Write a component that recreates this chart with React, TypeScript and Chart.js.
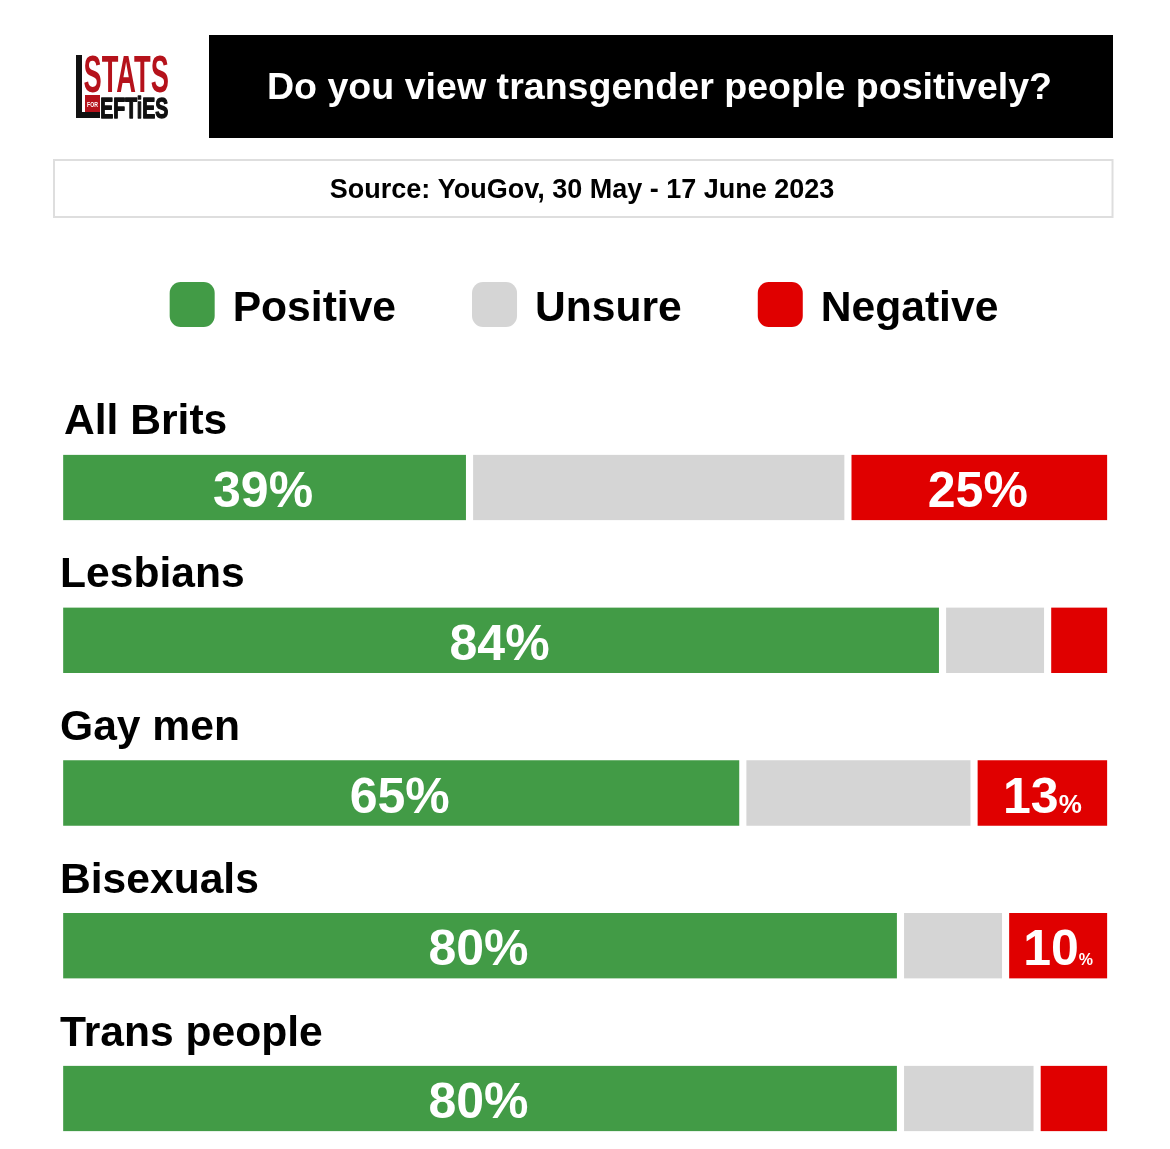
import React, { useEffect, useRef } from "react";
import { Chart, registerables } from "chart.js";

Chart.register(...registerables);

const title = "Do you view transgender people positively?";
const source = "Source: YouGov, 30 May - 17 June 2023";
const categories = ["All Brits", "Lesbians", "Gay men", "Bisexuals", "Trans people"];
const seriesNames = ["Positive", "Unsure", "Negative"];
const positive = [39, 84, 65, 80, 80];
const unsure = [36, 10, 22, 10, 13];
const negative = [25, 6, 13, 10, 7];
const positiveLabels = ["39", "84", "65", "80", "80"];
const unsureLabels = [null, null, null, null, null];
const negativeLabels = ["25", null, "13", "10", null];

const GREEN = "#429b46";
const GRAY = "#d5d5d5";
const RED = "#e00000";
const FONT = '"Liberation Sans", Arial, sans-serif';
const NARROW = '"Liberation Sans Narrow", "Liberation Sans", sans-serif';
const smallPercent: Record<string, number> = { "13": 26, "10": 16 };

function fitText(ctx: CanvasRenderingContext2D, text: string, x: number, baseline: number, width: number, font: string, color: string, heavy = 0) {
  ctx.save();
  ctx.font = font;
  ctx.fillStyle = color;
  ctx.textAlign = "left";
  ctx.textBaseline = "alphabetic";
  const m = ctx.measureText(text);
  const ink = m.actualBoundingBoxLeft + m.actualBoundingBoxRight;
  ctx.translate(x, baseline);
  ctx.scale(width / ink, 1);
  ctx.fillText(text, m.actualBoundingBoxLeft, 0);
  if (heavy > 0) {
    ctx.strokeStyle = color;
    ctx.lineWidth = heavy;
    ctx.lineJoin = "round";
    ctx.strokeText(text, m.actualBoundingBoxLeft, 0);
  }
  ctx.restore();
}

function drawLogo(ctx: CanvasRenderingContext2D) {
  ctx.fillStyle = "#111";
  ctx.fillRect(76, 55, 6, 63);
  ctx.fillRect(76, 112, 24, 6);
  fitText(ctx, "STATS", 84, 92, 84, `700 52px ${NARROW}`, "#b5121b");
  ctx.fillStyle = "#b5121b";
  ctx.fillRect(85, 95, 15, 17);
  fitText(ctx, "FOR", 87, 107, 11, `700 8px ${NARROW}`, "#fff");
  fitText(ctx, "EFTiES", 101, 117.5, 67, `700 29px ${NARROW}`, "#111", 1.4);
}

const overlay = {
  id: "overlay",
  beforeDatasetsDraw(chart: any) {
    const ctx: CanvasRenderingContext2D = chart.ctx;
    ctx.save();
    drawLogo(ctx);

    // Header
    ctx.fillStyle = "#000";
    ctx.fillRect(209, 35, 904, 103);
    ctx.fillStyle = "#fff";
    ctx.font = `700 37.6px ${FONT}`;
    ctx.textAlign = "center";
    ctx.textBaseline = "alphabetic";
    ctx.fillText(title, 659.5, 99);

    // Source box
    ctx.strokeStyle = "#dedede";
    ctx.lineWidth = 2;
    ctx.strokeRect(54, 160, 1058.5, 57);
    ctx.fillStyle = "#000";
    ctx.font = `700 27px ${FONT}`;
    ctx.fillText(source, 582, 198);

    // Legend
    ctx.font = `700 42.6px ${FONT}`;
    ctx.textAlign = "left";
    const box = 45;
    const boxGap = 18;
    const itemGap = 76;
    const widths = chart.data.datasets.map((d: any) => ctx.measureText(d.label).width);
    const total = widths.reduce((a: number, w: number) => a + box + boxGap + w, 0) + itemGap * (widths.length - 1);
    let x = 584 - total / 2;
    chart.data.datasets.forEach((d: any, i: number) => {
      ctx.fillStyle = d.backgroundColor;
      ctx.beginPath();
      ctx.roundRect(x, 282, box, box, 11);
      ctx.fill();
      ctx.fillStyle = "#000";
      ctx.fillText(d.label, x + box + boxGap, 321);
      x += box + boxGap + widths[i] + itemGap;
    });

    // Category captions above each bar
    const yScale = chart.scales.y;
    chart.data.labels.forEach((label: string, i: number) => {
      ctx.fillStyle = "#000";
      ctx.fillText(label, i === 0 ? 64 : 60, yScale.getPixelForValue(i) - (i === 0 ? 54 : 53));
    });
    ctx.restore();
  },
  afterDatasetsDraw(chart: any) {
    const ctx: CanvasRenderingContext2D = chart.ctx;
    ctx.save();
    ctx.fillStyle = "#fff";
    ctx.textBaseline = "alphabetic";
    ctx.textAlign = "left";
    chart.data.datasets.forEach((d: any, di: number) => {
      const meta = chart.getDatasetMeta(di);
      d.valueLabels.forEach((label: string | null, i: number) => {
        if (!label) return;
        const el = meta.data[i];
        const center = (el.x + el.base) / 2;
        const pct = smallPercent[label] ?? 50;
        ctx.font = `700 50px ${FONT}`;
        const w1 = ctx.measureText(label).width;
        ctx.font = `700 ${pct}px ${FONT}`;
        const w2 = ctx.measureText("%").width;
        const left = center - (w1 + w2) / 2 - (pct === 50 ? 1.5 : 0);
        ctx.font = `700 50px ${FONT}`;
        ctx.fillText(label, left, el.y + 19.5);
        ctx.font = `700 ${pct}px ${FONT}`;
        ctx.fillText("%", left + w1, el.y + 19.5);
      });
    });
    ctx.restore();
  },
};

export default function App() {
  const ref = useRef<HTMLCanvasElement | null>(null);
  useEffect(() => {
    const border = { left: 3.9, right: 3.9, top: 0, bottom: 0 };
    const mk = (i: number, data: number[], color: string, valueLabels: (string | null)[]) => ({
      label: seriesNames[i],
      data,
      backgroundColor: color,
      borderColor: "#fff",
      borderWidth: border,
      borderSkipped: false,
      barThickness: 65.5,
      clip: false,
      valueLabels,
    });
    const chart = new Chart(ref.current as HTMLCanvasElement, {
      type: "bar",
      data: {
        labels: categories,
        datasets: [
          mk(0, positive, GREEN, positiveLabels),
          mk(1, unsure, GRAY, unsureLabels),
          mk(2, negative, RED, negativeLabels),
        ] as any,
      },
      options: {
        indexAxis: "y",
        animation: false,
        responsive: false,
        devicePixelRatio: 1,
        layout: { padding: { left: 59.6, right: 59.3, top: 487.5, bottom: 50.5 } },
        plugins: { legend: { display: false }, tooltip: { enabled: false }, title: { display: false } },
        scales: {
          x: { stacked: true, min: 0, max: 100, display: false },
          y: { stacked: true, display: false, offset: false },
        },
      },
      plugins: [overlay],
    } as any);
    return () => chart.destroy();
  }, []);
  return (
    <canvas
      ref={ref}
      width={1170}
      height={1149}
      style={{ position: "absolute", left: 0, top: 0, width: 1170, height: 1149, display: "block", background: "#fff" }}
    />
  );
}
